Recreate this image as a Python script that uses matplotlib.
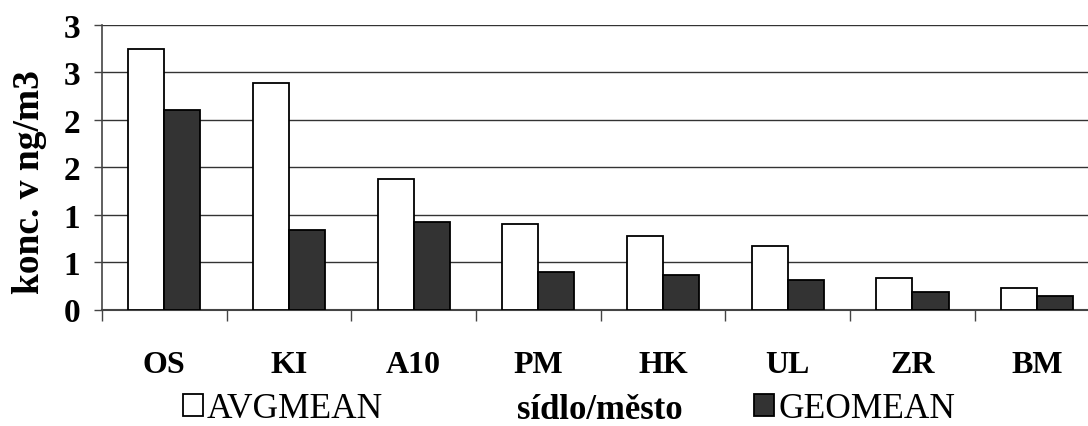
import matplotlib
matplotlib.use("Agg")
import matplotlib.pyplot as plt
import numpy as np

categories = ["OS", "KI", "A10", "PM", "HK", "UL", "ZR", "BM"]
avgmean = [2.75, 2.39, 1.38, 0.90, 0.77, 0.67, 0.33, 0.23]
geomean = [2.10, 0.84, 0.92, 0.40, 0.36, 0.31, 0.18, 0.14]
ytick_values = [0, 0.5, 1.0, 1.5, 2.0, 2.5, 3.0]
ytick_labels = ["0", "1", "1", "2", "2", "3", "3"]

plt.rcParams["font.family"] = ["Liberation Serif", "DejaVu Serif"]

W, H = 1088, 427
fig = plt.figure(figsize=(W / 100, H / 100), dpi=100)
left, right, bottom, top = 102, 1099.5, 310.5, 26
ax = fig.add_axes([left / W, (H - bottom) / H, (right - left) / W, (bottom - top) / H])

x = np.arange(len(categories))
bw = 0.289
b1 = ax.bar(x - bw / 2, avgmean, bw, color="white", edgecolor="black", linewidth=1.3, zorder=3, label="AVGMEAN")
b2 = ax.bar(x + bw / 2, geomean, bw, color="#333333", edgecolor="black", linewidth=1.3, zorder=3, label="GEOMEAN")

ax.set_xlim(-0.5, len(categories) - 0.5)
ax.set_ylim(0, 3)
ax.set_yticks(ytick_values)
ax.set_yticklabels(ytick_labels, fontsize=24, fontweight="bold")
ax.yaxis.grid(True, color="#333333", linewidth=1.0, zorder=0)
ax.set_axisbelow(True)

ax.set_xticks(x)
ax.set_xticklabels(categories, fontsize=23, fontweight="bold")
ax.set_xticks(np.arange(-0.5, len(categories), 1.0), minor=True)
ax.tick_params(axis="x", which="major", length=0, pad=29)
ax.tick_params(axis="x", which="minor", length=8, width=1.0, color="#444444", direction="out")
ax.tick_params(axis="y", which="major", length=5.5, width=1.0, color="#444444", pad=10)

for s in ["top", "right"]:
    ax.spines[s].set_visible(False)
ax.spines["left"].set_color("#444444")
ax.spines["left"].set_linewidth(1.2)
ax.spines["bottom"].set_color("#444444")
ax.spines["bottom"].set_linewidth(1.5)

ax.set_ylabel("konc. v ng/m3", fontsize=27, fontweight="bold")
ax.yaxis.set_label_coords(-0.055, 0.45)

fig.text(600 / W, (H - 411) / H, "sídlo/město", fontsize=25, fontweight="bold",
         ha="center", va="center")

leg_kw = dict(frameon=False, fontsize=25.5, handlelength=0.56, handleheight=0.56,
              handletextpad=0.12, borderpad=0, borderaxespad=0, loc="center left")
l1 = fig.legend([b1], ["AVGMEAN"], bbox_to_anchor=(183 / W, (H - 410) / H), **leg_kw)
l2 = fig.legend([b2], ["GEOMEAN"], bbox_to_anchor=(754 / W, (H - 410) / H), **leg_kw)

fig.savefig("out.png", dpi=100)
